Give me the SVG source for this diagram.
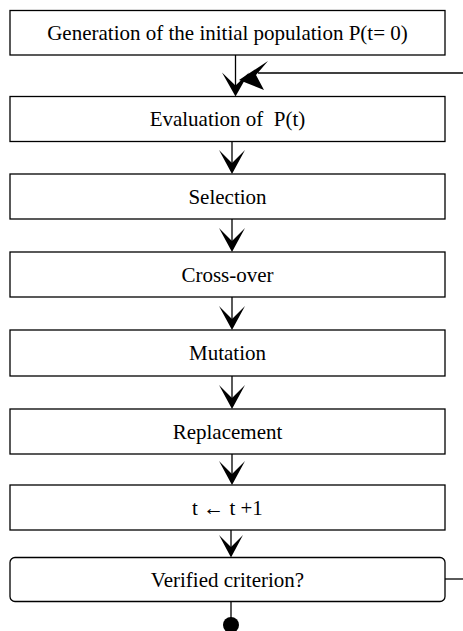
<svg xmlns="http://www.w3.org/2000/svg" width="463" height="631" viewBox="0 0 463 631">
<style>
.box{fill:#fff;stroke:#000;stroke-width:1.3}
.lbl{font-family:"Liberation Serif","Times New Roman",serif;font-size:21px;fill:#000;text-anchor:middle;white-space:pre}
.ln{stroke:#000;stroke-width:1.3;fill:none}
.head{fill:#000;stroke:none}
</style>
<rect width="463" height="631" fill="#fff"/>
<g id="connectors">
<line class="ln" x1="235.5" y1="55" x2="235.5" y2="90"/>
<polygon class="head" points="235.5,96.5 222,72.5 235.5,85.5 249,72.5"/>
<line class="ln" x1="463" y1="73" x2="258" y2="73"/>
<polygon class="head" points="239,80 268,61 256,75 264,90"/>
<line class="ln" x1="232" y1="141.5" x2="232" y2="168"/>
<polygon class="head" points="232,174 219,150 232,163 245,150"/>
<line class="ln" x1="232" y1="219" x2="232" y2="246"/>
<polygon class="head" points="232,252 219,228 232,241 245,228"/>
<line class="ln" x1="232" y1="297" x2="232" y2="324"/>
<polygon class="head" points="232,330 219,306 232,319 245,306"/>
<line class="ln" x1="232" y1="376" x2="232" y2="403"/>
<polygon class="head" points="232,409 219,385 232,398 245,385"/>
<line class="ln" x1="232" y1="454" x2="232" y2="479"/>
<polygon class="head" points="232,485 219,461 232,474 245,461"/>
<line class="ln" x1="231" y1="530" x2="231" y2="551"/>
<polygon class="head" points="231,557.5 219,535 231,547 243,535"/>
<line class="ln" x1="231" y1="601.5" x2="231" y2="620"/>
<circle class="head" cx="231" cy="625" r="8"/>
<line x1="426" y1="579" x2="445" y2="579" stroke="#999" stroke-width="1" stroke-dasharray="2,1"/>
<line class="ln" x1="445" y1="579" x2="463" y2="579"/>
</g>
<g id="n1"><rect class="box" x="10" y="10.5" width="435" height="44.5"/><text class="lbl" x="227.5" y="40">Generation of the initial population P(t= 0)</text></g>
<g id="n2"><rect class="box" x="10" y="96.5" width="435" height="45"/><text class="lbl" x="227.5" y="126">Evaluation of  P(t)</text></g>
<g id="n3"><rect class="box" x="10" y="174" width="435" height="45"/><text class="lbl" x="227.5" y="203.5">Selection</text></g>
<g id="n4"><rect class="box" x="10" y="252" width="435" height="45"/><text class="lbl" x="227.5" y="281.5">Cross-over</text></g>
<g id="n5"><rect class="box" x="10" y="330" width="435" height="46"/><text class="lbl" x="227.5" y="360">Mutation</text></g>
<g id="n6"><rect class="box" x="10" y="409" width="435" height="45"/><text class="lbl" x="227.5" y="438.5">Replacement</text></g>
<g id="n7"><rect class="box" x="10" y="485" width="435" height="45"/><text class="lbl" x="227.5" y="514.5">t ← t +1</text></g>
<g id="n8"><rect class="box" x="10" y="557.5" width="435" height="44" rx="5"/><text class="lbl" x="227.5" y="587">Verified criterion?</text></g>
</svg>
